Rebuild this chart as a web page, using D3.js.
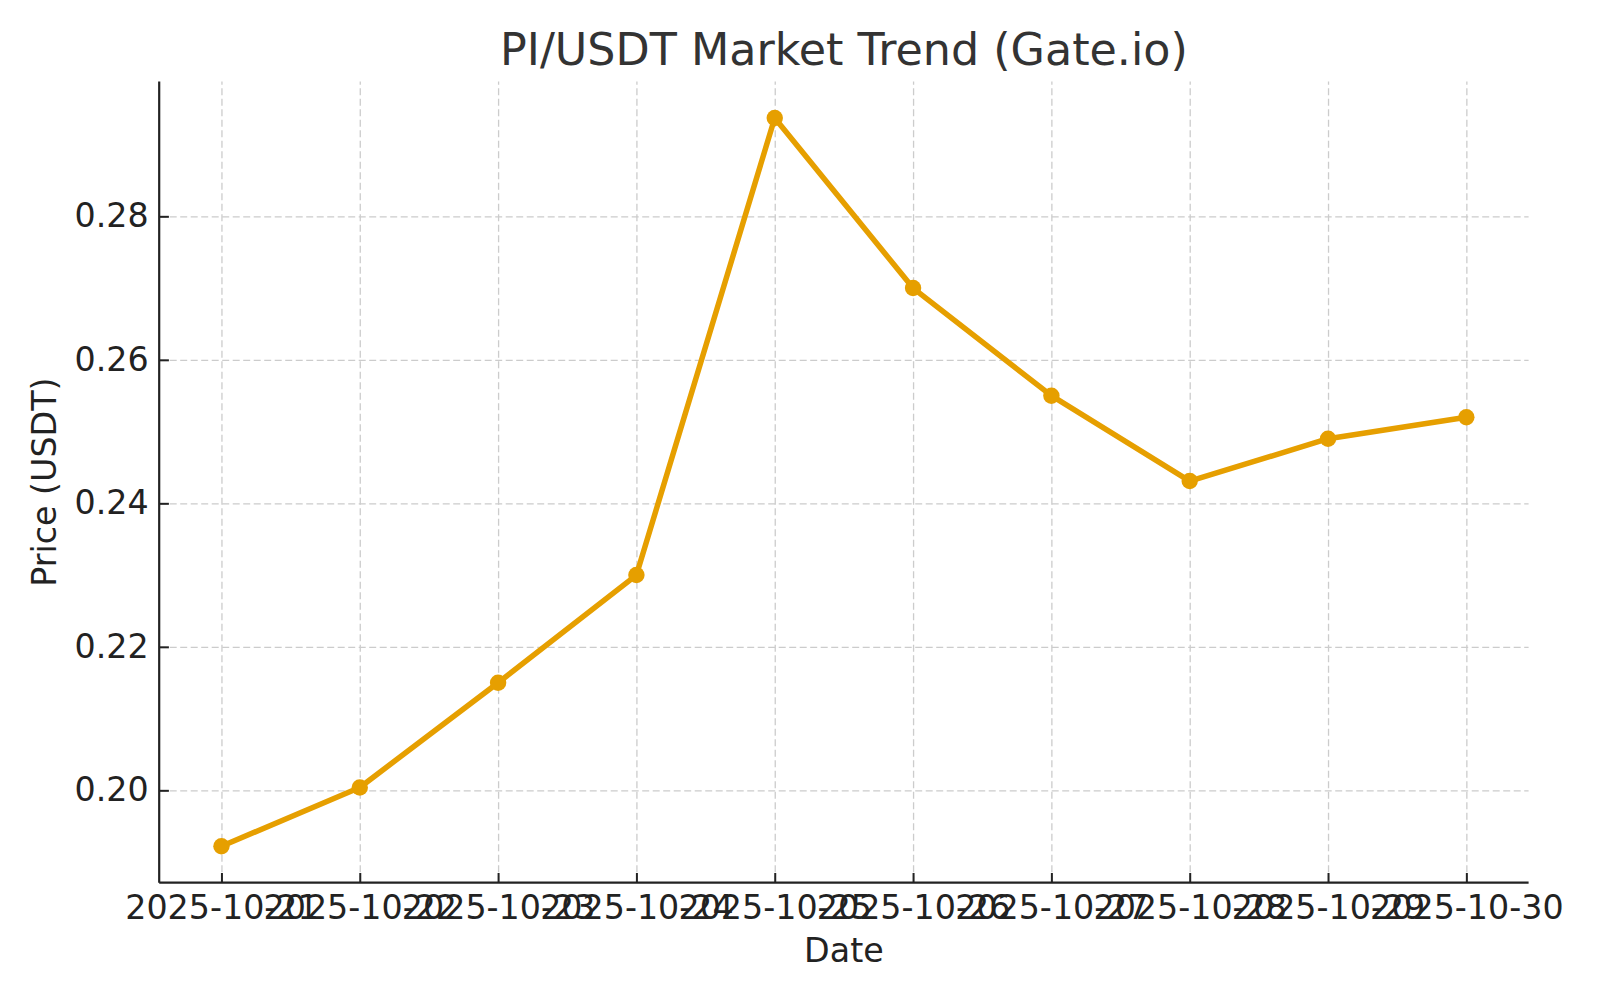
<!DOCTYPE html>
<html>
<head>
<meta charset="utf-8">
<script src="https://cdn.jsdelivr.net/npm/d3@7"></script>
<style>
  html, body { margin: 0; padding: 0; background: #fff; }
  svg { display: block; font-family: "DejaVu Sans", sans-serif; }
</style>
</head>
<body>
<svg id="chart" width="1600" height="1000"></svg>
<script>
const dates = ["2025-10-21","2025-10-22","2025-10-23","2025-10-24","2025-10-25","2025-10-26","2025-10-27","2025-10-28","2025-10-29","2025-10-30"];
const prices = [0.1922, 0.2004, 0.2150, 0.2300, 0.2937, 0.2700, 0.2550, 0.2431, 0.2490, 0.2520];
const yTicks = [0.20, 0.22, 0.24, 0.26, 0.28];
const titleText = "PI/USDT Market Trend (Gate.io)";
const xLabel = "Date";
const yLabel = "Price (USDT)";

(function () {
const svg = d3.select("#chart");
svg.append("rect").attr("width", 1600).attr("height", 1000).attr("fill", "#fff");

const mLeft = 159.2, mRight = 1528.6, mTop = 81.6, mBottom = 882.7;
const tickFont = 33.3, labelFont = 33.3;

const x = d3.scalePoint().domain(dates).range([mLeft, mRight]).padding(0.45);
const [mn, mx] = d3.extent(prices);
const pad = (mx - mn) * 0.05;
const y = d3.scaleLinear().domain([mn - pad, mx + pad]).range([mBottom, mTop]);

// Grid
const gridX = svg.append("g").attr("transform", `translate(0,${mBottom})`)
  .call(d3.axisBottom(x).tickSize(-(mBottom - mTop)).tickFormat(""));
gridX.select(".domain").remove();
gridX.selectAll("line").attr("stroke", "#cccccc").attr("stroke-width", 1.3).attr("stroke-dasharray", "7,3.5");

const gridY = svg.append("g").attr("transform", `translate(${mLeft},0)`)
  .call(d3.axisLeft(y).tickValues(yTicks).tickSize(-(mRight - mLeft)).tickFormat(""));
gridY.select(".domain").remove();
gridY.selectAll("line").attr("stroke", "#cccccc").attr("stroke-width", 1.3).attr("stroke-dasharray", "7,3.5");

// Line
const line = d3.line().x((d, i) => x(dates[i])).y(d => y(d));
svg.append("path").datum(prices)
  .attr("d", line).attr("fill", "none")
  .attr("stroke", "#E69F00").attr("stroke-width", 5.5)
  .attr("stroke-linejoin", "round").attr("stroke-linecap", "butt");

svg.append("g").selectAll("circle").data(prices).join("circle")
  .attr("cx", (d, i) => x(dates[i])).attr("cy", d => y(d))
  .attr("r", 8.2).attr("fill", "#E69F00");

// Axes
const xAxis = svg.append("g").attr("transform", `translate(0,${mBottom})`)
  .call(d3.axisBottom(x).tickSizeInner(-9.7).tickSizeOuter(0).tickPadding(12.7));
xAxis.select(".domain").attr("stroke", "#222").attr("stroke-width", 2.2)
  .attr("d", `M${mLeft},0H${mRight}`);
xAxis.selectAll(".tick line").attr("stroke", "#222").attr("stroke-width", 2);
xAxis.selectAll(".tick text").attr("font-size", tickFont).attr("fill", "#222")
  .attr("font-family", "DejaVu Sans");

const yAxis = svg.append("g").attr("transform", `translate(${mLeft},0)`)
  .call(d3.axisLeft(y).tickValues(yTicks).tickFormat(d3.format(".2f")).tickSizeInner(-9.7).tickSizeOuter(0).tickPadding(10.5));
yAxis.select(".domain").attr("stroke", "#222").attr("stroke-width", 2.2)
  .attr("d", `M0,${mBottom}V${mTop}`);
yAxis.selectAll(".tick line").attr("stroke", "#222").attr("stroke-width", 2);
yAxis.selectAll(".tick text").attr("font-size", tickFont).attr("fill", "#222")
  .attr("font-family", "DejaVu Sans");

// Title & labels
svg.append("text").attr("x", (mLeft + mRight) / 2).attr("y", 65)
  .attr("text-anchor", "middle").attr("font-size", 44.4).attr("fill", "#333")
  .text(titleText);

svg.append("text").attr("x", (mLeft + mRight) / 2).attr("y", 962)
  .attr("text-anchor", "middle").attr("font-size", labelFont).attr("fill", "#222")
  .text(xLabel);

svg.append("text").attr("transform", `translate(55.5,${(mTop + mBottom) / 2}) rotate(-90)`)
  .attr("text-anchor", "middle").attr("font-size", labelFont).attr("fill", "#222")
  .text(yLabel);
})();
</script>
</body>
</html>
